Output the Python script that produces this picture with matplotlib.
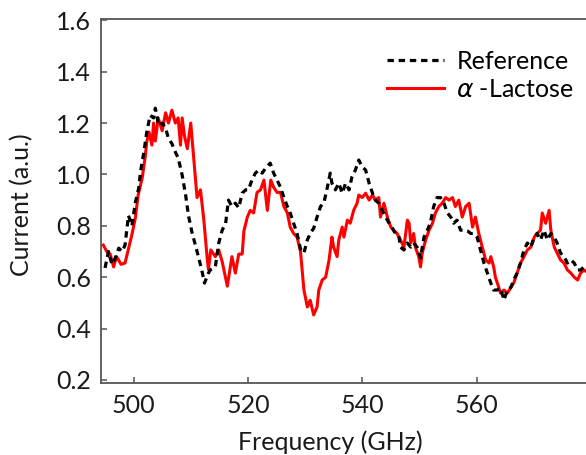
import matplotlib
matplotlib.use("Agg")
import matplotlib.pyplot as plt

plt.rcParams["font.family"] = ["Lato", "DejaVu Sans"]
plt.rcParams["mathtext.fontset"] = "dejavusans"

# reference (empty holder) spectrum
ref_freq = [495.0, 495.6, 496.2, 496.8, 497.4, 498.0, 498.5, 499.1, 499.7, 500.3,
            500.9, 501.2, 501.8, 502.3, 502.9, 503.5, 503.8, 504.4, 505.0, 505.6,
            506.1, 506.7, 507.3, 507.8, 508.5, 509.1, 509.6, 510.2, 510.8, 511.4,
            512.0, 512.4, 513.1, 513.4, 514.3, 514.9, 515.5, 516.1, 516.6, 517.2,
            517.8, 518.4, 519.0, 519.6, 520.1, 520.7, 521.3, 521.9, 522.5, 523.1,
            523.9, 524.5, 525.1, 525.7, 526.3, 526.9, 527.4, 528.0, 528.6, 529.2,
            529.8, 530.4, 530.9, 531.5, 532.1, 532.7, 533.3, 533.9, 534.4, 534.7,
            535.3, 535.9, 536.5, 537.1, 537.7, 538.2, 538.8, 539.4, 540.0, 540.6,
            541.2, 541.8, 542.3, 542.9, 543.5, 544.1, 544.7, 545.3, 545.8, 546.4,
            546.7, 547.3, 547.9, 548.5, 549.0, 549.6, 550.2, 550.8, 551.4, 551.9,
            552.5, 553.1, 553.7, 554.3, 554.9, 555.5, 556.0, 556.6, 557.2, 557.8,
            558.4, 559.0, 559.5, 560.1, 560.7, 561.3, 561.9, 562.5, 563.0, 563.6,
            564.2, 564.8, 565.4, 566.0, 566.5, 567.1, 567.7, 568.3, 568.9, 569.5,
            570.1, 570.6, 571.2, 571.8, 572.4, 573.0, 573.6, 574.1, 574.7, 575.3,
            575.9, 576.5, 577.1, 577.7, 578.2, 578.8, 579.5]
ref_curr = [0.636, 0.70, 0.65, 0.675, 0.713, 0.70, 0.725, 0.84, 0.80, 0.89,
            0.947, 1.01, 1.087, 1.165, 1.23, 1.22, 1.258, 1.19, 1.20, 1.18,
            1.14, 1.12, 1.087, 1.064, 0.997, 0.92, 0.84, 0.776, 0.725, 0.675,
            0.62, 0.577, 0.616, 0.628, 0.64, 0.733, 0.783, 0.81, 0.90, 0.875,
            0.888, 0.87, 0.927, 0.94, 0.94, 0.978, 1.005, 1.017, 1.005, 1.025,
            1.044, 1.005, 0.978, 0.95, 0.91, 0.875, 0.85, 0.81, 0.77, 0.71,
            0.694, 0.745, 0.77, 0.79, 0.834, 0.875, 0.89, 0.95, 1.005, 0.966,
            0.94, 0.966, 0.927, 0.966, 0.94, 0.99, 1.017, 1.056, 1.029, 1.017,
            0.966, 0.927, 0.90, 0.888, 0.86, 0.834, 0.81, 0.79, 0.77, 0.76,
            0.717, 0.706, 0.733, 0.717, 0.733, 0.717, 0.675, 0.756, 0.783, 0.81,
            0.875, 0.91, 0.91, 0.888, 0.85, 0.834, 0.81, 0.822, 0.783, 0.783,
            0.78, 0.77, 0.77, 0.756, 0.706, 0.655, 0.616, 0.577, 0.55, 0.55,
            0.557, 0.511, 0.55, 0.56, 0.589, 0.616, 0.655, 0.706, 0.733, 0.717,
            0.756, 0.77, 0.745, 0.783, 0.745, 0.77, 0.756, 0.733, 0.694, 0.68,
            0.655, 0.667, 0.655, 0.628, 0.628, 0.64, 0.62]

# alpha-lactose spectrum
lac_freq = [494.7, 495.3, 495.9, 496.5, 497.0, 497.3, 497.8, 498.5, 499.1, 499.7,
            500.3, 500.8, 501.5, 502.0, 502.3, 502.7, 503.2, 503.5, 503.8, 504.3,
            505.0, 505.6, 506.1, 506.7, 507.3, 507.8, 508.2, 508.5, 508.9, 509.4,
            510.0, 510.5, 511.1, 511.7, 512.3, 512.9, 513.1, 513.5, 514.3, 514.9,
            515.5, 516.4, 517.2, 517.8, 518.4, 519.0, 519.3, 519.9, 520.4, 521.0,
            521.6, 522.2, 522.8, 523.4, 524.0, 524.5, 525.1, 525.7, 526.3, 526.9,
            527.4, 528.0, 528.6, 529.2, 529.8, 530.4, 530.9, 531.5, 532.1, 532.4,
            533.0, 533.6, 534.2, 534.7, 535.0, 535.6, 535.9, 536.5, 536.8, 537.4,
            537.9, 538.5, 539.1, 539.4, 540.0, 540.6, 541.2, 541.8, 542.3, 542.9,
            543.2, 543.8, 544.4, 545.0, 545.5, 546.1, 546.7, 547.3, 547.9, 548.2,
            548.5, 549.0, 549.3, 549.9, 550.2, 550.5, 551.1, 551.7, 552.3, 552.8,
            553.4, 554.0, 554.6, 555.2, 555.8, 556.3, 556.9, 557.5, 558.1, 558.7,
            559.3, 559.8, 560.4, 561.0, 561.6, 562.2, 562.5, 563.0, 563.3, 563.9,
            564.2, 564.8, 565.4, 566.0, 566.5, 567.1, 567.7, 568.3, 568.9, 569.5,
            570.1, 570.6, 571.2, 571.5, 572.1, 572.7, 573.0, 573.6, 574.1, 574.7,
            575.3, 575.9, 576.5, 577.1, 577.7, 578.2, 578.8, 579.3]
lac_curr = [0.725, 0.70, 0.69, 0.64, 0.68, 0.67, 0.65, 0.655, 0.71, 0.765,
            0.83, 0.92, 0.986, 1.064, 1.126, 1.165, 1.114, 1.20, 1.13, 1.22,
            1.17, 1.24, 1.20, 1.25, 1.20, 1.22, 1.114, 1.22, 1.15, 1.10,
            1.20, 1.067, 0.91, 0.94, 0.82, 0.667, 0.63, 0.706, 0.68, 0.706,
            0.66, 0.565, 0.68, 0.616, 0.69, 0.69, 0.78, 0.834, 0.86, 0.85,
            0.93, 0.94, 0.978, 0.86, 0.978, 0.95, 0.93, 0.93, 0.875, 0.85,
            0.795, 0.77, 0.756, 0.70, 0.55, 0.484, 0.51, 0.453, 0.484, 0.55,
            0.589, 0.60, 0.667, 0.756, 0.717, 0.68, 0.745, 0.795, 0.756, 0.822,
            0.81, 0.86, 0.888, 0.92, 0.91, 0.927, 0.90, 0.92, 0.90, 0.91,
            0.834, 0.888, 0.834, 0.795, 0.783, 0.77, 0.745, 0.717, 0.822, 0.81,
            0.733, 0.77, 0.717, 0.68, 0.64, 0.694, 0.745, 0.783, 0.81, 0.85,
            0.875, 0.888, 0.91, 0.90, 0.91, 0.875, 0.90, 0.834, 0.875, 0.888,
            0.795, 0.834, 0.77, 0.717, 0.667, 0.655, 0.68, 0.64, 0.60, 0.56,
            0.538, 0.55, 0.538, 0.56, 0.577, 0.616, 0.655, 0.68, 0.706, 0.717,
            0.756, 0.77, 0.783, 0.85, 0.81, 0.86, 0.783, 0.717, 0.694, 0.667,
            0.655, 0.628, 0.616, 0.60, 0.589, 0.616, 0.628, 0.62]

xticks = [500, 520, 540, 560]
yticks = [0.2, 0.4, 0.6, 0.8, 1.0, 1.2, 1.4, 1.6]

fig = plt.figure(figsize=(5.86, 4.55), dpi=100)
ax = fig.add_axes([0.1724, 0.1582, 0.83, 0.80])

ax.plot(lac_freq, lac_curr, color="#ff0000", lw=2.2, label=r"$\alpha$ -Lactose", zorder=2)
ax.plot(ref_freq, ref_curr, color="black", lw=2.3, dashes=(2.0, 1.5), label="Reference", zorder=3)

ax.set_xlim(494.3, 579.4)
ax.set_ylim(0.188, 1.605)
ax.set_xticks(xticks)
ax.set_yticks(yticks)
ax.set_yticklabels([f"{v:.1f}" for v in yticks])

for s in ax.spines.values():
    s.set_color("#555555")
    s.set_linewidth(1.3)
ax.tick_params(direction="in", length=4, width=1.1, color="#555555",
               labelsize=18, labelcolor="#1a1a1a")
ax.tick_params(axis="y", pad=7)
ax.tick_params(axis="x", pad=8)

ax.set_xlabel("Frequency (GHz)", fontsize=18, color="#1a1a1a")
ax.set_ylabel("Current (a.u.)", fontsize=18, color="#1a1a1a")
ax.xaxis.set_label_coords(0.471, -0.13)
ax.yaxis.set_label_coords(-0.14, 0.49)

h, l = ax.get_legend_handles_labels()
ax.legend(h[::-1], l[::-1], loc="upper left", bbox_to_anchor=(0.643, 0.913),
          bbox_transform=fig.transFigure, frameon=False, fontsize=18,
          handlelength=2.3, handletextpad=0.48, labelspacing=0.22, borderaxespad=0)

fig.savefig("out.png", dpi=100)
